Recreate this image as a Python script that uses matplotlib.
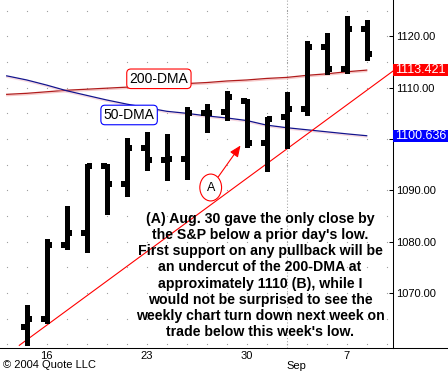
import matplotlib
matplotlib.use('Agg')
import matplotlib.pyplot as plt
import matplotlib.transforms as mtransforms
import matplotlib.patheffects as pe
from matplotlib.patches import Rectangle
from matplotlib.lines import Line2D
import numpy as np

plt.rcParams['font.family'] = ['Liberation Sans', 'DejaVu Sans']

# daily S&P 500 bars, Aug 13 - Sep 8 2004
day_labels = ['13', '16', '17', '18', '19', '20', '23', '24', '25', '26', '27',
              '30', '31', '1', '2', '3', '7', '8']
opens = [1063.4, 1064.9, 1079.4, 1081.6, 1094.7, 1091.2, 1098.2, 1096.0, 1096.1,
         1105.0, 1105.3, 1107.5, 1099.2, 1104.2, 1105.8, 1118.0, 1113.6, 1121.4]
highs = [1067.7, 1080.6, 1086.9, 1095.1, 1095.1, 1100.1, 1101.4, 1101.0, 1106.2,
         1106.8, 1109.4, 1107.7, 1104.2, 1109.1, 1119.1, 1120.7, 1124.0, 1123.1]
lows = [1059.9, 1064.1, 1078.6, 1078.0, 1085.4, 1088.8, 1094.0, 1092.0, 1092.2,
        1101.4, 1103.7, 1098.5, 1093.8, 1098.2, 1104.7, 1112.7, 1112.8, 1115.4]
closes = [1064.9, 1079.4, 1081.6, 1094.7, 1091.2, 1098.2, 1095.9, 1096.2, 1105.0,
          1105.0, 1108.2, 1099.2, 1103.9, 1105.8, 1118.0, 1113.6, 1121.4, 1116.5]

# moving averages start one session before the first bar
ma_days = list(range(-1, 18))
dma200 = [1108.7, 1108.9, 1109.2, 1109.5, 1109.7, 1109.9, 1110.1, 1110.3, 1110.5, 1110.8,
          1111.0, 1111.3, 1111.5, 1111.8, 1112.0, 1112.4, 1112.7, 1113.1, 1113.421]
dma50 = [1112.3, 1111.5, 1110.5, 1109.4, 1108.5, 1107.6, 1106.8, 1106.1, 1105.4, 1105.0,
         1104.5, 1104.1, 1103.6, 1102.7, 1102.2, 1101.8, 1101.4, 1101.0, 1100.636]

trend_x = [-0.37, 18.32]
trend_y = [1059.8, 1113.25]

week_ticks = [1, 6, 11, 16]
week_labels = ['16', '23', '30', '7']
price_ticks = [1070, 1080, 1090, 1100, 1110, 1120]

note = ("(A) Aug. 30 gave the only close by\n"
        "the S&P below a prior day's low.\n"
        "First support on any pullback will be\n"
        "an undercut of the 200-DMA at\n"
        "approximately 1110 (B), while I\n"
        "would not be surprised to see the\n"
        "weekly chart turn down next week on\n"
        "trade below this week's low.")

W, H = 448, 371
fig = plt.figure(figsize=(W / 100, H / 100), dpi=100)
ax = fig.add_axes([0, 23.3 / H, 393 / W, 347.7 / H])
ax.set_xlim(-1.335, 18.315)
ax.set_ylim(1059.34, 1127.08)

for s in ('top', 'left'):
    ax.spines[s].set_visible(False)
for s in ('right', 'bottom'):
    ax.spines[s].set_linewidth(0.75)
fig.add_artist(Line2D([393 / W, 1], [23.3 / H, 23.3 / H], color='black', lw=0.75))

# dotted background grid
gx, gy = np.meshgrid(np.arange(-1, 19), np.arange(1060, 1130, 5))
ax.plot(gx.ravel(), gy.ravel(), ls='none', marker='s', ms=0.8, mew=0,
        color='#a0a0a0', zorder=0)
sep_idx = day_labels.index('1')
ax.axvline(sep_idx, color='#a0a0a0', lw=0.75, ls=(0, (1, 2)), zorder=0)

# moving averages and trendline
ax.plot(ma_days, dma200, color='#b01c1c', lw=0.9, zorder=2,
        path_effects=[pe.SimpleLineShadow(offset=(0, -1), shadow_color='#f2a0a0', alpha=0.6),
                      pe.Normal()])
ax.plot(ma_days, dma50, color='#14148c', lw=0.9, zorder=2,
        path_effects=[pe.SimpleLineShadow(offset=(0, -1), shadow_color='#f2b0c0', alpha=0.5),
                      pe.Normal()])
ax.plot(trend_x, trend_y, color='#ff0000', lw=0.8, zorder=2)

# OHLC bars
x = np.arange(len(opens))
ax.vlines(x, lows, highs, color='black', lw=3.5, capstyle='butt', antialiased=False, zorder=3)
ax.hlines(opens, x - 0.28, x, color='black', lw=2.9, capstyle='butt', antialiased=False, zorder=3)
ax.hlines(closes, x, x + 0.28, color='black', lw=2.9, capstyle='butt', antialiased=False, zorder=3)

# labels on the averages
ax.text(6.61, 1111.73, '200-DMA', ha='center', va='center', fontsize=10, zorder=4,
        bbox=dict(boxstyle='round,pad=0.2,rounding_size=0.3', fc='white', ec='#ff0000', lw=0.8))
ax.text(5.12, 1104.68, '50-DMA', ha='center', va='center', fontsize=10, zorder=4,
        bbox=dict(boxstyle='round,pad=0.2,rounding_size=0.3', fc='white', ec='#0000ff', lw=0.8))

# circled A with arrow to Aug 30
ax.annotate('A', xy=(10.69, 1098.73), xytext=(9.2, 1090.55), ha='center', va='center',
            fontsize=9, zorder=4,
            bbox=dict(boxstyle='ellipse,pad=0.28', fc='white', ec='#ff0000', lw=0.8),
            arrowprops=dict(arrowstyle='-|>,head_length=0.75,head_width=0.32', color='#ff0000',
                            lw=0.8, shrinkA=0, shrinkB=0))

# axes ticks
ax.yaxis.tick_right()
ax.set_yticks(price_ticks)
ax.set_yticklabels(['' if abs(p - dma50[-1]) < 2 else f'{p:.2f}' for p in price_ticks])
ax.tick_params(axis='y', direction='in', length=3, width=0.75, labelsize=8, pad=2)
ax.set_xticks(week_ticks)
ax.set_xticklabels(week_labels)
ax.tick_params(axis='x', length=0, labelsize=8, pad=2.5)

# last values of the averages on the price scale
blend = mtransforms.blended_transform_factory(ax.transAxes, ax.transData)
for val, col in [(dma200[-1], '#ff0000'), (dma50[-1], '#0000ff')]:
    ax.add_patch(Rectangle((1.0, val - 1.17), 55 / 393, 2.34, transform=blend,
                           fc=col, ec='none', clip_on=False, zorder=5))
    ax.text(1.0 + 2 / 393, val, f'{val:.3f}', transform=blend, color='white', fontsize=9,
            ha='left', va='center', clip_on=False, zorder=6)

sep_blend = mtransforms.blended_transform_factory(ax.transData, fig.transFigure)
ax.text(sep_idx, 1 - 365.7 / H, 'Sep', transform=sep_blend, fontsize=8, ha='left', va='center')
fig.text(3 / W, 1 - 365 / H, '© 2004 Quote LLC', fontsize=8, ha='left', va='center')

fig.text(260 / W, 1 - 275.5 / H, note, ha='center', va='center', multialignment='center',
         fontsize=10.2, fontweight='bold', linespacing=1.2)

fig.savefig('out.png', dpi=100)
